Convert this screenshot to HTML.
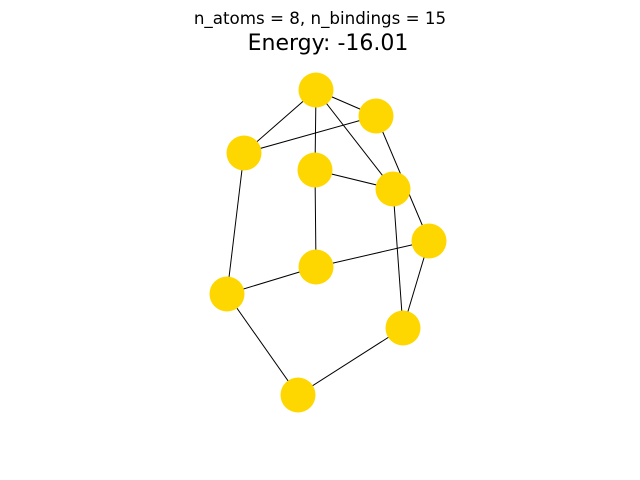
<!DOCTYPE html>
<html>
<head>
<meta charset="utf-8">
<style>
  html, body { margin: 0; padding: 0; background: #fff; }
  svg { display: block; }
  text { font-family: "DejaVu Sans", "Liberation Sans", sans-serif; fill: #000; }
</style>
</head>
<body>
<svg id="chart" width="640" height="480" viewBox="0 0 640 480">
  <rect x="0" y="0" width="640" height="480" fill="#fff"/>
  <text x="320" y="24" text-anchor="middle" font-size="16.7">n_atoms = 8, n_bindings = 15</text>
  <text x="328" y="50" text-anchor="middle" font-size="22">Energy: -16.01</text>
  <g id="edges"></g>
  <g id="nodes"></g>
</svg>
<script>
const nodeX = [315, 375, 243, 314, 392, 428, 315, 226, 402, 297];
const nodeY = [89, 115, 152, 169, 188, 240, 266, 293, 327, 394];
const edgeFrom = [0, 0, 0, 0, 2, 1, 3, 3, 4, 2, 7, 6, 5, 8, 7];
const edgeTo   = [1, 2, 3, 4, 1, 5, 4, 6, 8, 7, 6, 5, 8, 9, 9];

function sx(v) { return v + 1; }
function sy(v) { return v + 1; }

const NS = 'http://www.w3.org/2000/svg';
const eg = document.getElementById('edges');
const ng = document.getElementById('nodes');

for (let i = 0; i < edgeFrom.length; i++) {
  const a = edgeFrom[i], b = edgeTo[i];
  const l = document.createElementNS(NS, 'line');
  l.setAttribute('x1', sx(nodeX[a]));
  l.setAttribute('y1', sy(nodeY[a]));
  l.setAttribute('x2', sx(nodeX[b]));
  l.setAttribute('y2', sy(nodeY[b]));
  l.setAttribute('stroke', '#000');
  l.setAttribute('stroke-width', '1');
  
  
  eg.appendChild(l);
}

for (let i = 0; i < nodeX.length; i++) {
  const c = document.createElementNS(NS, 'circle');
  c.setAttribute('cx', sx(nodeX[i]));
  c.setAttribute('cy', sy(nodeY[i]));
  c.setAttribute('r', '17.5');
  c.setAttribute('fill', '#FFD700');
  
  
  ng.appendChild(c);
}
</script>
</body>
</html>
